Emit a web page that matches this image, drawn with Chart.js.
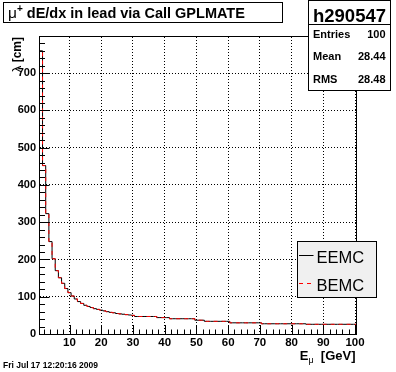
<!DOCTYPE html>
<html>
<head>
<meta charset="utf-8">
<script src="https://cdn.jsdelivr.net/npm/chart.js@4.4.0/dist/chart.umd.min.js"></script>
<style>
  html, body { margin: 0; padding: 0; background: #fff; }
  canvas { display: block; }
</style>
</head>
<body>
<canvas id="myChart" width="396" height="372"></canvas>
<script>
// histogram bins: centres 1..100, width 1
const binWidth = 1;
const binCenters = Array.from({ length: 100 }, (_, i) => i + 1);

// EEMC contents (bins 1..100)
const eemc = [
  0, 760, 452, 323, 248, 202, 170, 151, 136, 122,
  111, 102, 94, 87, 82, 77, 74, 71, 68, 66,
  64, 62, 60, 58, 57, 55, 54, 53, 52, 51,
  50, 47, 47, 47, 47, 47, 47, 47, 44, 44,
  44, 44, 41, 41, 41, 41, 41, 41, 41, 41,
  37, 37, 37, 34, 34, 34, 34, 34, 34, 34,
  34, 30, 30, 30, 30, 30, 30, 30, 30, 30,
  30, 27.5, 27.5, 27.5, 27.5, 27.5, 27.5, 27.5, 27.5, 27.5,
  27.5, 27.5, 27.5, 27.5, 27.5, 26, 26, 26, 26, 26,
  26, 26, 26, 26, 26, 26, 26, 26, 26, 26
];
// BEMC lies on top of EEMC everywhere
const bemc = [
  0, 760, 452, 323, 248, 202, 170, 151, 136, 122,
  111, 102, 94, 87, 82, 77, 74, 71, 68, 66,
  64, 62, 60, 58, 57, 55, 54, 53, 52, 51,
  50, 47, 47, 47, 47, 47, 47, 47, 44, 44,
  44, 44, 41, 41, 41, 41, 41, 41, 41, 41,
  37, 37, 37, 34, 34, 34, 34, 34, 34, 34,
  34, 30, 30, 30, 30, 30, 30, 30, 30, 30,
  30, 27.5, 27.5, 27.5, 27.5, 27.5, 27.5, 27.5, 27.5, 27.5,
  27.5, 27.5, 27.5, 27.5, 27.5, 26, 26, 26, 26, 26,
  26, 26, 26, 26, 26, 26, 26, 26, 26, 26
];

const xTicks = [10, 20, 30, 40, 50, 60, 70, 80, 90, 100];
const yTicks = [0, 100, 200, 300, 400, 500, 600, 700];
const statLabels = ["Entries", "Mean", "RMS"];
const statValues = ["100", "28.44", "28.48"];

const FONT = "'Liberation Sans', Arial, Helvetica, sans-serif";

const toSteps = (vals) => {
  const pts = binCenters.map((c, i) => ({ x: c - binWidth / 2, y: vals[i] }));
  pts.push({ x: binCenters[binCenters.length - 1] + binWidth / 2, y: vals[vals.length - 1] });
  return pts;
};

const rootDecor = {
  id: "rootDecor",
  afterDatasetsDraw(chart) {
    const { ctx, chartArea: a, scales: { x, y } } = chart;
    ctx.save();
    ctx.strokeStyle = "#000";
    ctx.lineWidth = 1;
    ctx.setLineDash([]);
    // ticks (inside the frame)
    ctx.beginPath();
    for (let v = 2; v <= 100; v += 2) {
      const px = Math.round(x.getPixelForValue(v)) + 0.5;
      const len = v % 10 === 0 ? 9 : 4.5;
      ctx.moveTo(px, a.bottom);
      ctx.lineTo(px, a.bottom - len);
    }
    for (let v = 0; v <= 780; v += 20) {
      const py = Math.round(y.getPixelForValue(v)) + 0.5;
      const len = v % 100 === 0 ? 9.5 : 5;
      ctx.moveTo(a.left, py);
      ctx.lineTo(a.left + len, py);
    }
    ctx.stroke();
    // frame
    ctx.strokeRect(a.left - 0.5, a.top - 0.5, a.right - a.left + 1, a.bottom - a.top + 1);
    ctx.restore();
  },
  afterDraw(chart) {
    const { ctx } = chart;
    ctx.save();
    ctx.fillStyle = "#000";
    ctx.strokeStyle = "#000";
    ctx.lineWidth = 1;
    ctx.textBaseline = "alphabetic";

    // title box
    ctx.fillStyle = "#fff";
    ctx.fillRect(3, 2, 280, 21);
    ctx.strokeRect(3.5, 2.5, 279, 20);
    ctx.fillStyle = "#000";
    let tx = 8;
    ctx.font = "15.5px " + FONT;
    ctx.fillText("\u03bc", tx, 17.5);
    tx += ctx.measureText("\u03bc").width;
    ctx.font = "bold 10px " + FONT;
    ctx.fillText("+", tx, 12);
    tx += ctx.measureText("+").width;
    ctx.font = "bold 14.5px " + FONT;
    ctx.fillText(" dE/dx in lead via Call GPLMATE", tx, 17.5);

    // stats box
    ctx.fillStyle = "#fff";
    ctx.fillRect(308, 0, 83, 91);
    ctx.strokeRect(308.5, 0.5, 82, 90);
    ctx.beginPath();
    ctx.moveTo(308, 24.5);
    ctx.lineTo(391, 24.5);
    ctx.stroke();
    ctx.fillStyle = "#000";
    ctx.font = "bold 18.5px " + FONT;
    ctx.textAlign = "center";
    ctx.fillText("h290547", 349.5, 21.5);
    ctx.font = "bold 11px " + FONT;
    const rowY = [37.5, 60, 82.5];
    statLabels.forEach((lab, i) => {
      ctx.textAlign = "left";
      ctx.fillText(lab, 313, rowY[i]);
      ctx.textAlign = "right";
      ctx.fillText(statValues[i], 385.5, rowY[i]);
    });

    // legend
    ctx.fillStyle = "#f0f0f0";
    ctx.fillRect(297, 241, 80, 57);
    ctx.strokeRect(297.5, 241.5, 79, 56);
    const ds = chart.data.datasets;
    const legendRows = [
      { d: ds.find((d) => d.label === "EEMC"), y: 255.5, base: 262.5 },
      { d: ds.find((d) => d.label === "BEMC"), y: 283.5, base: 291 },
    ];
    legendRows.forEach((r) => {
      ctx.strokeStyle = r.d.borderColor;
      ctx.setLineDash(r.d.borderDash || []);
      ctx.beginPath();
      ctx.moveTo(299, r.y);
      ctx.lineTo(313.5, r.y);
      ctx.stroke();
      ctx.setLineDash([]);
      ctx.fillStyle = "#000";
      ctx.textAlign = "left";
      ctx.font = "16.5px " + FONT;
      ctx.fillText(r.d.label, 316.5, r.base);
    });

    // x title: E_mu [GeV], right aligned to the frame end
    ctx.fillStyle = "#000";
    ctx.textAlign = "left";
    const pE = "E", pMu = "\u03bc", pRest = "  [GeV]";
    ctx.font = "bold 13px " + FONT;
    const wE = ctx.measureText(pE).width;
    const wRest = ctx.measureText(pRest).width;
    ctx.font = "9px " + FONT;
    const wMu = ctx.measureText(pMu).width;
    let xx = 355.5 - (wE + wMu + wRest);
    ctx.font = "bold 13px " + FONT;
    ctx.fillText(pE, xx, 360);
    xx += wE;
    ctx.font = "9px " + FONT;
    ctx.fillText(pMu, xx, 363);
    xx += wMu;
    ctx.font = "bold 13px " + FONT;
    ctx.fillText(pRest, xx, 360);

    // y title: lambda [cm], rotated, ending at the top of the axis
    ctx.save();
    ctx.translate(21, 37);
    ctx.rotate(-Math.PI / 2);
    ctx.font = "bold 12px " + FONT;
    const wCm = ctx.measureText(" [cm]").width;
    ctx.font = "13px " + FONT;
    const wL = ctx.measureText("\u03bb").width;
    ctx.fillText("\u03bb", -(wCm + wL), 0);
    ctx.font = "bold 12px " + FONT;
    ctx.fillText(" [cm]", -wCm, 0);
    ctx.restore();

    // date stamp
    ctx.font = "bold 8.5px " + FONT;
    ctx.textAlign = "left";
    ctx.fillText("Fri Jul 17 12:20:16 2009", 3, 368);

    ctx.restore();
  },
};

const config = {
  type: "line",
  data: {
    datasets: [
      {
        label: "BEMC",
        data: toSteps(bemc),
        borderColor: "#ff0000",
        borderDash: [4, 4],
        borderWidth: 1,
        stepped: "after",
        pointRadius: 0,
        fill: false,
        order: 0,
      },
      {
        label: "EEMC",
        data: toSteps(eemc),
        borderColor: "#000000",
        borderWidth: 1,
        stepped: "after",
        pointRadius: 0,
        fill: false,
        order: 1,
      },
    ],
  },
  options: {
    responsive: false,
    animation: false,
    devicePixelRatio: 1,
    layout: { padding: { left: 0, top: 37, right: 40, bottom: 0 } },
    plugins: {
      legend: { display: false },
      title: { display: false },
      tooltip: { enabled: false },
    },
    scales: {
      x: {
        type: "linear",
        min: 0.7,
        max: 100.3,
        afterBuildTicks: (s) => { s.ticks = xTicks.map((v) => ({ value: v })); },
        afterFit: (s) => { s.height = 38; },
        grid: { color: "#000", lineWidth: 1, drawTicks: false },
        border: { display: false, dash: [1, 2] },
        ticks: {
          color: "#000",
          font: { family: FONT, weight: "bold", size: 11.5 },
          padding: 2,
          maxRotation: 0,
          autoSkip: false,
        },
      },
      y: {
        type: "linear",
        min: 0,
        max: 797,
        afterBuildTicks: (s) => { s.ticks = yTicks.map((v) => ({ value: v })); },
        afterFit: (s) => { s.width = 40; },
        grid: { color: "#000", lineWidth: 1, drawTicks: false },
        border: { display: false, dash: [1, 2] },
        ticks: {
          color: "#000",
          font: { family: FONT, weight: "bold", size: 11 },
          padding: 4,
          autoSkip: false,
        },
      },
    },
  },
  plugins: [rootDecor],
};

const ctx = document.getElementById("myChart").getContext("2d");
const chart = new Chart(ctx, config);
</script>
</body>
</html>
